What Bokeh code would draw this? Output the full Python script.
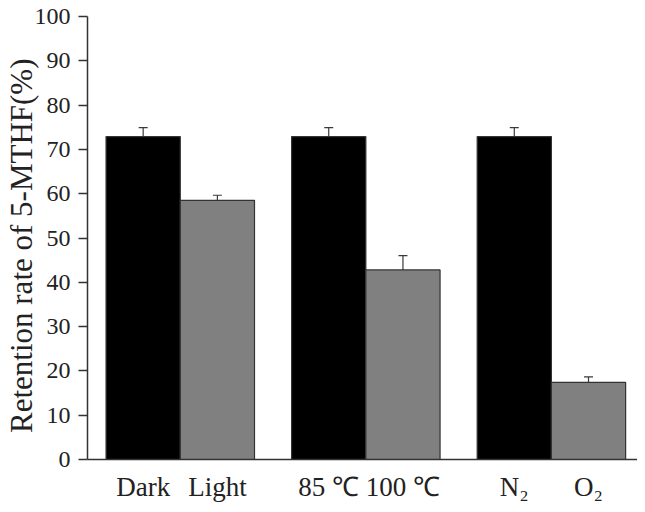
from bokeh.plotting import figure
from bokeh.models import ColumnDataSource, Whisker, TeeHead, FixedTicker, Range1d
from bokeh.embed import file_html
from bokeh.resources import INLINE

labels = ["Dark", "Light", "85 ℃", "100 ℃", "N₂", "O₂"]
values = [72.9, 58.5, 72.9, 42.8, 72.9, 17.4]
errors = [2.0, 1.15, 2.0, 3.2, 2.0, 1.25]
colors = ["#000000", "#808080", "#000000", "#808080", "#000000", "#808080"]
y_ticks = [0, 10, 20, 30, 40, 50, 60, 70, 80, 90, 100]
y_title = "Retention rate of 5-MTHF(%)"

# two bars per group, groups separated by half a bar width
xs = [0.75 + (i // 2) * 2.5 + (i % 2) for i in range(len(labels))]

src = ColumnDataSource(dict(
    x=xs, top=values, color=colors,
    upper=[v + e for v, e in zip(values, errors)],
    lower=[v - e for v, e in zip(values, errors)],
))

FONT = "Liberation Serif"

p = figure(width=637, height=504, output_backend="svg", toolbar_location=None,
           x_range=Range1d(0, 7.41), y_range=Range1d(0, 100),
           min_border_left=85, min_border_right=0, min_border_top=16, min_border_bottom=44)
p.outline_line_color = None
p.grid.grid_line_color = None

p.vbar(x="x", top="top", width=1.0, bottom=0, source=src,
       fill_color="color", line_color="#333333", line_width=1.2)

wh = Whisker(base="x", upper="upper", lower="lower", source=src,
             line_color="#3a3a3a", line_width=1.2,
             upper_head=TeeHead(size=9, line_color="#3a3a3a", line_width=1.2),
             lower_head=TeeHead(size=9, line_color="#3a3a3a", line_width=1.2))
p.add_layout(wh)

# y axis
p.yaxis.ticker = FixedTicker(ticks=y_ticks)
p.yaxis.axis_label = y_title + "\u00a0\u00a0"
p.yaxis.axis_label_text_font = FONT
p.yaxis.axis_label_text_font_style = "normal"
p.yaxis.axis_label_text_font_size = "31px"
p.yaxis.axis_label_text_color = "#222222"
p.yaxis.axis_label_standoff = -7
p.yaxis.major_label_text_font = FONT
p.yaxis.major_label_text_font_size = "24px"
p.yaxis.major_label_text_color = "#222222"
p.yaxis.major_label_standoff = 8
p.yaxis.major_tick_out = 9
p.yaxis.major_tick_in = 0
p.yaxis.minor_tick_out = 0
p.yaxis.minor_tick_in = 0
p.yaxis.axis_line_color = "#333333"
p.yaxis.axis_line_width = 1.5
p.yaxis.major_tick_line_color = "#333333"
p.yaxis.major_tick_line_width = 1.5

# x axis
p.xaxis.ticker = FixedTicker(ticks=xs)
p.xaxis.major_label_overrides = {x: l for x, l in zip(xs, labels)}
p.xaxis.major_label_text_font = FONT
p.xaxis.major_label_text_font_size = "27px"
p.xaxis.major_label_text_color = "#222222"
p.xaxis.major_label_standoff = 6
p.xaxis.major_tick_line_color = None
p.xaxis.minor_tick_line_color = None
p.xaxis.axis_line_color = "#333333"
p.xaxis.axis_line_width = 1.5

open("out.html", "w").write(file_html(p, INLINE))
